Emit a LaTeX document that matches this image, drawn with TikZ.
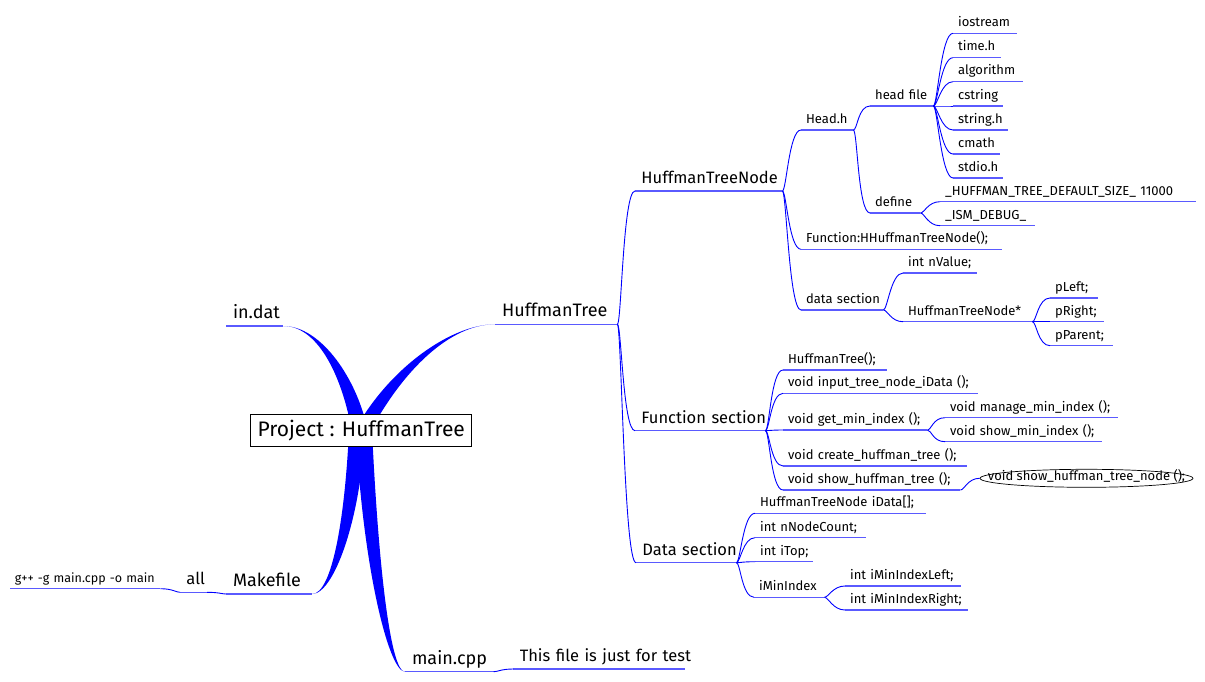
\documentclass[tikz,border=0pt]{standalone}
\usepackage{fontspec}
\setmainfont{Fira Sans}
\usetikzlibrary{shapes.geometric,calc,backgrounds}
\definecolor{edgeblue}{RGB}{0,0,255}
\definecolor{ulblue}{RGB}{90,90,255}
\tikzset{
 mmn/.style={anchor=south west, inner xsep=0pt, inner ysep=6.5pt, text depth=0pt, align=left},
 ul/.style={color=ulblue, line width=1.1pt},
 edge/.style={draw=edgeblue, line width=0.9pt},
 thickedge/.style={fill=edgeblue},
 fA/.style={font=\fontsize{18}{20}\selectfont, inner ysep=7.5pt},
 fB/.style={font=\fontsize{16.5}{19}\selectfont, inner ysep=7.5pt},
 fC/.style={font=\fontsize{13}{15}\selectfont},
 fD/.style={font=\fontsize{12.5}{14}\selectfont},
}
\newcommand\mmnode[6][fC]{%
 \pgfmathsetmacro\mmw{#4-#3}%
 \node[mmn,#1,text width=\mmw pt] (#2) at (#3,#5) {\noindent\mbox{\hspace*{0.38em}#6}};%
 \draw[ul] (#2.south west) -- (#2.south east);}
\newcommand\cnR[2]{\draw[edge] (#1.south east) .. controls +(4,0) and +(-12,0) .. (#2.south west);}
\newcommand\cnL[2]{\draw[edge] (#1.south west) .. controls +(-4,0) and +(12,0) .. (#2.south east);}
\begin{document}
\begin{tikzpicture}[x=1pt,y=-1pt]
\useasboundingbox (0,0) rectangle (1205,682);
% root
\node[draw=black, fill=white, line width=0.8pt, minimum width=221pt, minimum height=32.4pt, inner sep=0pt, font=\fontsize{21}{24}\selectfont] (root) at (361.2,430.5) {Project : HuffmanTree};
% level 1
\mmnode[fA]{indat}{226}{283}{326}{in.dat}
\mmnode[fA]{ht}{495}{617}{324.3}{HuffmanTree}
\mmnode[fA]{mk}{226}{311.7}{594}{Makefile}
\mmnode[fA]{mc}{405}{493.3}{671.7}{main.cpp}
% level 2
\mmnode[fB]{tf}{513.3}{685}{669}{This file is just for test}
\mmnode[fB]{all}{180}{206.7}{592.3}{all}
\mmnode[fD]{gpp}{10}{160}{588.7}{g++ -g main.cpp -o main}
\mmnode[fB]{htn}{635}{782}{191}{HuffmanTreeNode}
\mmnode[fB]{fs}{635}{765}{430.7}{Function section}
\mmnode[fB]{ds}{636}{736}{562.7}{Data section}
% HuffmanTreeNode subtree
\mmnode{headh}{801}{853}{130}{Head.h}
\mmnode{funhh}{801}{1002}{249.3}{Function:HHuffmanTreeNode();}
\mmnode{datas}{801}{883}{310}{data section}
\mmnode{headfile}{870}{933}{106}{head file}
\mmnode{define}{870}{920}{213}{define}
\mmnode{iostream}{953}{1017}{33.3}{iostream}
\mmnode{timeh}{953}{1001}{57.7}{time.h}
\mmnode{algorithm}{953}{1023}{81.7}{algorithm}
\mmnode{cstring}{953}{1003}{106}{cstring}
\mmnode{stringh}{953}{1008}{130}{string.h}
\mmnode{cmath}{953}{1000}{154}{cmath}
\mmnode{stdioh}{953}{1003}{178}{stdio.h}
\mmnode{defsize}{940}{1196}{201.7}{\_HUFFMAN\_TREE\_DEFAULT\_SIZE\_ 11000}
\mmnode{ismdebug}{940}{1035}{225.7}{\_ISM\_DEBUG\_}
\mmnode{nvalue}{903}{977}{273}{int nValue;}
\mmnode{htnptr}{903}{1032}{321.7}{HuffmanTreeNode*}
\mmnode{pleft}{1050}{1098}{298}{pLeft;}
\mmnode{pright}{1050}{1104}{321.7}{pRight;}
\mmnode{pparent}{1050}{1113}{345.7}{pParent;}
% Function section subtree
\mmnode{fhtree}{783}{887}{370}{HuffmanTree();}
\mmnode{finput}{783}{978}{393.3}{void input\_tree\_node\_iData ();}
\mmnode{fgetmin}{783}{927}{430}{void get\_min\_index ();}
\mmnode{fcreate}{783}{967}{466}{void create\_huffman\_tree ();}
\mmnode{fshow}{783}{960}{490}{void show\_huffman\_tree ();}
\mmnode{fmanage}{945}{1118}{417.7}{void manage\_min\_index ();}
\mmnode{fshowmin}{945}{1102}{441.7}{void show\_min\_index ();}
\node[draw=black, line width=0.7pt, ellipse, minimum width=213pt, minimum height=18pt, inner sep=0pt, text height=6pt, text depth=2pt, font=\fontsize{13}{15}\selectfont] (ell) at (1086.5,478.3) {\makebox[0pt]{void show\_huffman\_tree\_node ();}};
% Data section subtree
\mmnode{didata}{755}{926}{513.3}{HuffmanTreeNode iData[];}
\mmnode{dcount}{755}{866}{537.7}{int nNodeCount;}
\mmnode{dtop}{755}{813}{561.7}{int iTop;}
\mmnode{dmin}{754}{824}{597.3}{iMinIndex}
\mmnode{dminl}{845}{961}{586}{int iMinIndexLeft;}
\mmnode{dminr}{845}{968}{610}{int iMinIndexRight;}
% thin connectors
\cnR{ht}{htn}\cnR{ht}{fs}\cnR{ht}{ds}
\cnR{htn}{headh}\cnR{htn}{funhh}\cnR{htn}{datas}
\cnR{headh}{headfile}\cnR{headh}{define}
\cnR{headfile}{iostream}\cnR{headfile}{timeh}\cnR{headfile}{algorithm}\cnR{headfile}{cstring}
\cnR{headfile}{stringh}\cnR{headfile}{cmath}\cnR{headfile}{stdioh}
\cnR{define}{defsize}\cnR{define}{ismdebug}
\cnR{datas}{nvalue}\cnR{datas}{htnptr}
\cnR{htnptr}{pleft}\cnR{htnptr}{pright}\cnR{htnptr}{pparent}
\cnR{fs}{fhtree}\cnR{fs}{finput}\cnR{fs}{fgetmin}\cnR{fs}{fcreate}\cnR{fs}{fshow}
\cnR{fgetmin}{fmanage}\cnR{fgetmin}{fshowmin}
\draw[edge] (fshow.south east) .. controls +(4,0) and +(-12,0) .. (ell.west);
\cnR{ds}{didata}\cnR{ds}{dcount}\cnR{ds}{dtop}\cnR{ds}{dmin}
\cnR{dmin}{dminl}\cnR{dmin}{dminr}
\cnL{mk}{all}\cnL{all}{gpp}
\cnR{mc}{tf}
% thick connectors from the root
\coordinate (R1) at (360,432);
\coordinate (R2) at (362,432);
\coordinate (R3) at (357,430);
\coordinate (R4) at (364,430);
\begin{scope}[on background layer]
\fill[white] (0,0) rectangle (1205,682);
\fill[thickedge] (indat.south east) .. controls +(36,0) and ($(R1)+(-17,-52)$) .. ($(R1)+(-8,0)$) -- ($(R1)+(8,0)$) .. controls ($(R1)+(-2,-52)$) and ($(indat.south east)+(38,0)$) .. (indat.south east) -- cycle;
\fill[thickedge] (ht.south west) .. controls +(-45,0) and ($(R2)+(41,-62)$) .. ($(R2)+(8,0)$) -- ($(R2)+(-8,0)$) .. controls ($(R2)+(25,-62)$) and ($(ht.south west)+(-45,0)$) .. (ht.south west) -- cycle;
\fill[thickedge] (mk.south east) .. controls +(20,0) and ($(R3)+(-12,88)$) .. ($(R3)+(-8,0)$) -- ($(R3)+(8,0)$) .. controls ($(R3)+(4,88)$) and ($(mk.south east)+(22,0)$) .. (mk.south east) -- cycle;
\fill[thickedge] (mc.south west) .. controls +(-15,0) and ($(R4)+(14,130)$) .. ($(R4)+(8,0)$) -- ($(R4)+(-8,0)$) .. controls ($(R4)+(-2,130)$) and ($(mc.south west)+(-17,0)$) .. (mc.south west) -- cycle;
\end{scope}
\end{tikzpicture}
\end{document}
